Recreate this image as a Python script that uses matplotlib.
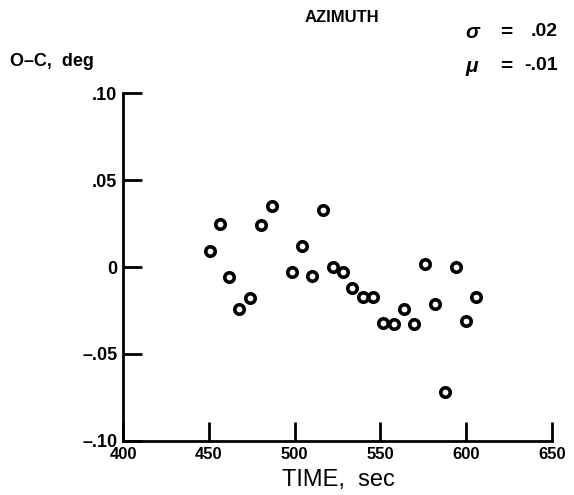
#!/usr/bin/env python3

import matplotlib
matplotlib.use('Agg')
import matplotlib.pyplot as plt

# values
time_sec = [450.7, 456.5, 461.8, 467.6, 474.0, 480.4, 486.8, 498.5, 504.3, 510.0,
            516.5, 522.4, 528.2, 533.5, 540.0, 545.7, 551.5, 558.0, 563.8, 569.6,
            576.0, 581.8, 587.6, 594.0, 599.9, 605.7]
o_minus_c = [0.009, 0.025, -0.006, -0.024, -0.018, 0.024, 0.035, -0.003, 0.012, -0.005,
             0.033, 0.0, -0.003, -0.012, -0.017, -0.017, -0.032, -0.033, -0.024, -0.033,
             0.002, -0.021, -0.072, 0.0, -0.031, -0.017]

x_ticks = [400, 450, 500, 550, 600, 650]
x_labels = ['400', '450', '500', '550', '600', '650']
y_ticks = [-0.10, -0.05, 0.0, 0.05, 0.10]
y_labels = ['\u2013.10', '\u2013.05', '0', '.05', '.10']

sigma_text = '.02'
mu_text = '-.01'


def main():
	plt.rcParams['font.family'] = ['Liberation Sans', 'DejaVu Sans']
	fig = plt.figure(figsize=(5.74, 4.95), dpi=100)
	ax = fig.add_axes([0.2143, 0.1091, 0.7474, 0.7030])

	ax.plot(time_sec, o_minus_c, 'o', markersize=6.8, markerfacecolor='white',
		markeredgecolor='black', markeredgewidth=2.6, linestyle='none')

	ax.set_xlim(400, 650)
	ax.set_ylim(-0.10, 0.10)
	ax.set_xticks(x_ticks)
	ax.set_xticklabels(x_labels, fontweight='bold', fontsize=12)
	ax.set_yticks(y_ticks)
	ax.set_yticklabels(y_labels, fontweight='bold', fontsize=13)
	ax.tick_params(direction='in', length=14, width=2.0, pad=4)

	for side in ['top', 'right']:
		ax.spines[side].set_visible(False)
	for side in ['left', 'bottom']:
		ax.spines[side].set_linewidth(2.0)

	fig.text(342 / 574, 1 - 18 / 495, 'AZIMUTH', ha='center', va='center',
		fontsize=12, fontweight='bold')
	fig.text(10 / 574, 1 - 62 / 495, 'O\u2013C,  deg', ha='left', va='center',
		fontsize=13, fontweight='bold')
	fig.text(338 / 574, 1 - 480 / 495, 'TIME,  sec', ha='center', va='center',
		fontsize=17)

	# sigma / mu block at top right
	for yy, sym, val in [(32, '\u03c3', sigma_text), (66, '\u03bc', mu_text)]:
		fig.text(465 / 574, 1 - yy / 495, sym, ha='left', va='center',
			fontsize=15, fontweight='bold', fontstyle='italic')
		fig.text(506 / 574, 1 - yy / 495, '=', ha='center', va='center',
			fontsize=15, fontweight='bold')
		fig.text(558 / 574, 1 - yy / 495, val, ha='right', va='center',
			fontsize=14, fontweight='bold')

	fig.savefig('out.png', dpi=100)


if __name__ == "__main__":
	main()
